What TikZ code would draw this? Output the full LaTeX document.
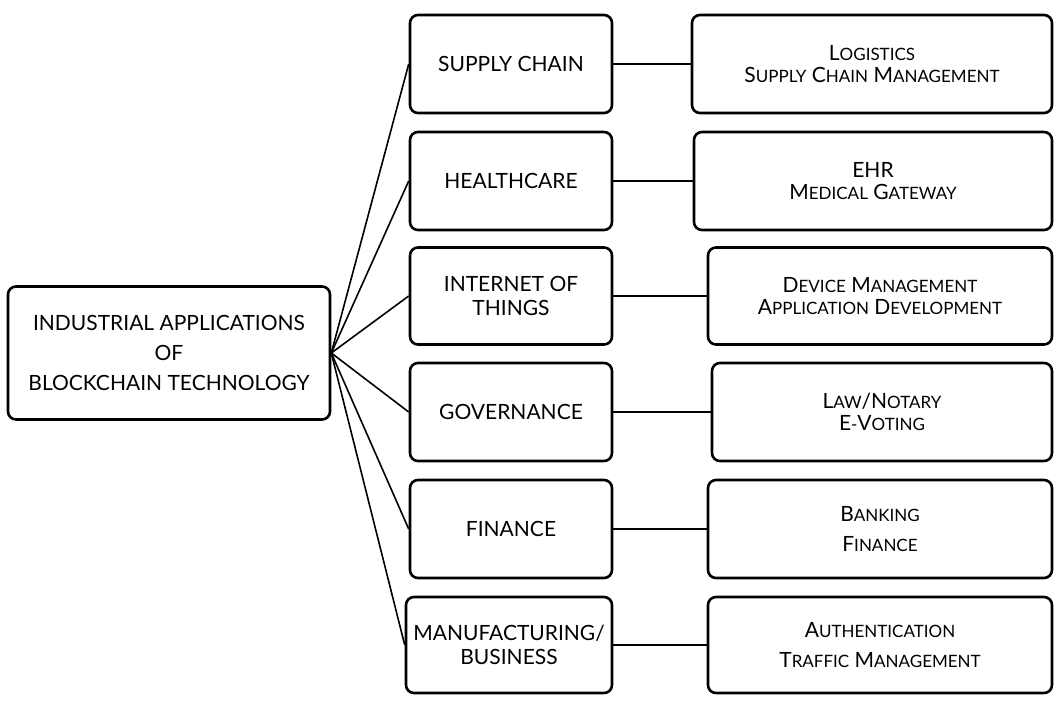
\documentclass[tikz,border=0pt]{standalone}
\usepackage{fontspec}
\setmainfont{Lato}
\usetikzlibrary{positioning}
% small caps by hand
\newcommand{\capsm}[2]{#1{\fontsize{17}{20}\selectfont #2}}
\tikzset{
  box/.style={draw, line width=2.6pt, rounded corners=8pt, align=center,
    font=\fontsize{21}{30}\selectfont},
  link/.style={line width=1.6pt}
}
\begin{document}
\begin{tikzpicture}[x=1pt,y=-1pt]
  \useasboundingbox (0,0) rectangle (1060,707);
  \node[box, minimum width=322pt, minimum height=133pt] (root) at (169,353)
    {INDUSTRIAL APPLICATIONS\\OF\\BLOCKCHAIN TECHNOLOGY};
  % middle column
  \node[box, minimum width=202pt, minimum height=98pt] (sc) at (511,64) {SUPPLY CHAIN};
  \node[box, minimum width=202pt, minimum height=98pt] (hc) at (511,181) {HEALTHCARE};
  \node[box, minimum width=202pt, minimum height=97pt] (iot) at (511,296) {INTERNET OF\\[-6pt]THINGS};
  \node[box, minimum width=202pt, minimum height=98pt] (gov) at (511,412) {GOVERNANCE};
  \node[box, minimum width=202pt, minimum height=98pt] (fin) at (511,529) {FINANCE};
  \node[box, minimum width=206pt, minimum height=96pt] (mfg) at (509,645) {MANUFACTURING/\\[-6pt]BUSINESS};
  % right column
  \node[box, minimum width=360pt, minimum height=98pt] (sc2) at (872,64)
    {\capsm{L}{OGISTICS}\\[-8pt]\capsm{S}{UPPLY} \capsm{C}{HAIN} \capsm{M}{ANAGEMENT}};
  \node[box, minimum width=358pt, minimum height=98pt] (hc2) at (873,181)
    {EHR\\[-8pt]\capsm{M}{EDICAL} \capsm{G}{ATEWAY}};
  \node[box, minimum width=344pt, minimum height=97pt] (iot2) at (880,296)
    {\capsm{D}{EVICE} \capsm{M}{ANAGEMENT}\\[-8pt]\capsm{A}{PPLICATION} \capsm{D}{EVELOPMENT}};
  \node[box, minimum width=340pt, minimum height=98pt] (gov2) at (882,412)
    {\capsm{L}{AW}/\capsm{N}{OTARY}\\[-8pt]\capsm{E}{-}\capsm{V}{OTING}};
  \node[box, minimum width=344pt, minimum height=98pt] (fin2) at (880,529)
    {\capsm{B}{ANKING}\\\capsm{F}{INANCE}};
  \node[box, minimum width=344pt, minimum height=96pt] (mfg2) at (880,645)
    {\capsm{A}{UTHENTICATION}\\\capsm{T}{RAFFIC} \capsm{M}{ANAGEMENT}};
  % connectors
  \foreach \m in {sc,hc,iot,gov,fin,mfg}{
    \draw[link] (root.east) -- (\m.west);
    \draw[link] (\m.east) -- (\m2.west);
  }
\end{tikzpicture}
\end{document}
